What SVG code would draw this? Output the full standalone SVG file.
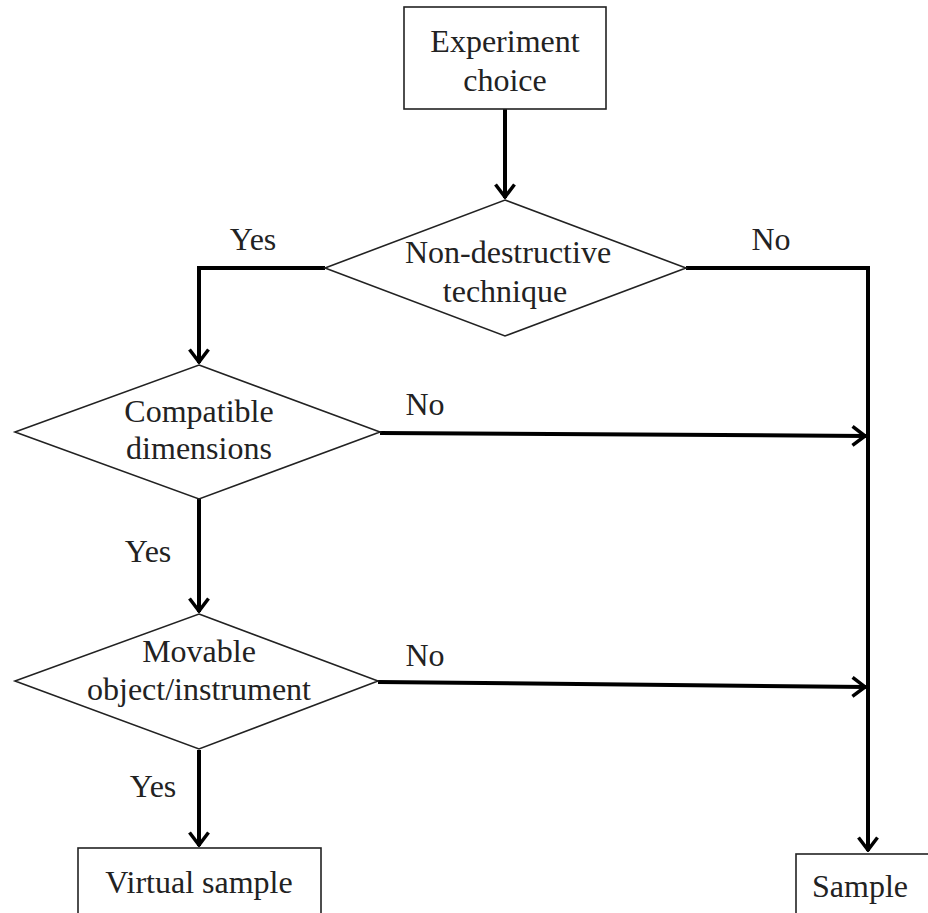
<svg xmlns="http://www.w3.org/2000/svg" width="928" height="913" viewBox="0 0 928 913">
<defs>
<style>
.shape{fill:#fff;stroke:#222;stroke-width:1.6}
.t{font-family:'Liberation Serif',Tinos,'Times New Roman',Times,'DejaVu Serif',serif;font-size:32px;fill:#222;text-anchor:middle}
.c{fill:none;stroke:#000;stroke-width:4}
</style>
<marker id="arr" viewBox="0 0 16 22" refX="15" refY="11" markerWidth="16" markerHeight="22" markerUnits="userSpaceOnUse" orient="auto">
<path d="M1.5,1.5 L14,11 L1.5,20.5" fill="none" stroke="#000" stroke-width="3.5"/>
</marker>
</defs>
<rect width="928" height="913" fill="#fff"/>
<g id="connectors">
<line class="c" x1="505" y1="109" x2="505" y2="198" marker-end="url(#arr)"/>
<polyline class="c" points="325,268 199,268 199,363" marker-end="url(#arr)"/>
<polyline class="c" points="686,268 868,268 868,851" marker-end="url(#arr)"/>
<line class="c" x1="380" y1="433" x2="866" y2="436" marker-end="url(#arr)"/>
<line class="c" x1="199" y1="499" x2="199" y2="612" marker-end="url(#arr)"/>
<line class="c" x1="378" y1="682" x2="866" y2="687" marker-end="url(#arr)"/>
<line class="c" x1="199" y1="750" x2="199" y2="846" marker-end="url(#arr)"/>
<text class="t" x="253" y="250">Yes</text>
<text class="t" x="771" y="250">No</text>
<text class="t" x="425" y="415">No</text>
<text class="t" x="148" y="562">Yes</text>
<text class="t" x="425" y="666">No</text>
<text class="t" x="153" y="797">Yes</text>
</g>
<g id="experiment-choice">
<rect class="shape" x="404" y="7" width="202" height="102"/>
<text class="t" x="505" y="52">Experiment</text>
<text class="t" x="505" y="91">choice</text>
</g>
<g id="non-destructive">
<polygon class="shape" points="505,200 686,268 505,336 325,268"/>
<text class="t" x="508" y="263">Non-destructive</text>
<text class="t" x="505" y="302">technique</text>
</g>
<g id="compatible-dimensions">
<polygon class="shape" points="199,365 380,432 199,499 15,432"/>
<text class="t" x="199" y="422">Compatible</text>
<text class="t" x="199" y="459">dimensions</text>
</g>
<g id="movable">
<polygon class="shape" points="199,614 378,681 199,749 15,681"/>
<text class="t" x="199" y="662">Movable</text>
<text class="t" x="199" y="700">object/instrument</text>
</g>
<g id="virtual-sample">
<rect class="shape" x="78" y="848" width="243" height="70"/>
<text class="t" x="199" y="893">Virtual sample</text>
</g>
<g id="sample">
<rect class="shape" x="796" y="854" width="140" height="70"/>
<text class="t" x="860" y="897">Sample</text>
</g>
</svg>
